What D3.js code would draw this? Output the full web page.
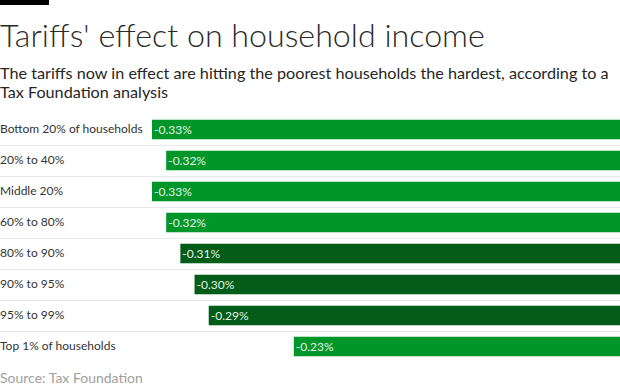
<!DOCTYPE html>
<html>
<head>
<meta charset="utf-8">
<script src="https://cdn.jsdelivr.net/npm/d3@7"></script>
<style>
  html, body { margin: 0; padding: 0; background: #fff; }
  svg { display: block; }
  text { font-family: Lato, "Open Sans", sans-serif; }
</style>
</head>
<body>
<svg id="chart" width="620" height="389"></svg>
<script>
const categories = ["Bottom 20% of households", "20% to 40%", "Middle 20%", "60% to 80%",
                    "80% to 90%", "90% to 95%", "95% to 99%", "Top 1% of households"];
const values = [-0.33, -0.32, -0.33, -0.32, -0.31, -0.30, -0.29, -0.23];
const valueLabels = ["-0.33%", "-0.32%", "-0.33%", "-0.32%", "-0.31%", "-0.30%", "-0.29%", "-0.23%"];
const groups = ["light", "light", "light", "light", "dark", "dark", "dark", "light"];

const title = "Tariffs' effect on household income";
const subtitle = ["The tariffs now in effect are hitting the poorest households the hardest, according to a",
                  "Tax Foundation analysis"];
const source = "Source: Tax Foundation";

const W = 620, H = 389;
const svg = d3.select("#chart");

svg.append("rect").attr("x", 0).attr("y", 0).attr("width", 49).attr("height", 5).attr("fill", "#000");

svg.append("text").attr("x", 0).attr("y", 47)
  .attr("font-size", 32.2).attr("font-weight", 300).attr("fill", "#2a2a2a").text(title);

svg.selectAll("text.sub").data(subtitle).join("text").attr("class", "sub")
  .attr("x", 0).attr("y", (d, i) => 79 + i * 18.5)
  .attr("font-size", 16.2).attr("fill", "#262626").text(d => d);

const x = d3.scaleLinear().domain([-0.33, 0]).range([152, W]);
const y = d3.scaleBand().domain(categories).range([114, 362]).paddingInner(0.37).paddingOuter(0.185);

const color = d3.scaleOrdinal().domain(["light", "dark"]).range(["#01962a", "#035c18"]);

const data = categories.map((c, i) => ({ c, v: values[i], lab: valueLabels[i], g: groups[i] }));

// separators
svg.selectAll("line.sep").data(categories.slice(0, -1)).join("line").attr("class", "sep")
  .attr("x1", 0).attr("x2", W)
  .attr("y1", d => y(d) + y.bandwidth() + (y.step() - y.bandwidth()) / 2 + 0.5)
  .attr("y2", d => y(d) + y.bandwidth() + (y.step() - y.bandwidth()) / 2 + 0.5)
  .attr("stroke", "#e6e8ec").attr("stroke-width", 1);

svg.selectAll("rect.bar").data(data).join("rect").attr("class", "bar")
  .attr("x", d => x(d.v)).attr("width", d => x(0) - x(d.v))
  .attr("y", d => y(d.c)).attr("height", y.bandwidth())
  .attr("fill", d => color(d.g));

svg.selectAll("text.val").data(data).join("text").attr("class", "val")
  .attr("x", d => x(d.v) + 2).attr("y", d => y(d.c) + y.bandwidth() / 2)
  .attr("dy", "0.34em").attr("font-size", 12).attr("fill", "#e4f3e6").text(d => d.lab);

svg.selectAll("text.cat").data(data).join("text").attr("class", "cat")
  .attr("x", 0).attr("y", d => y(d.c) + y.bandwidth() / 2)
  .attr("dy", "0.32em").attr("font-size", 12).attr("fill", "#333").text(d => d.c);

svg.append("text").attr("x", 0).attr("y", 383)
  .attr("font-size", 14).attr("fill", "#a0a0a0").text(source);
</script>
</body>
</html>
